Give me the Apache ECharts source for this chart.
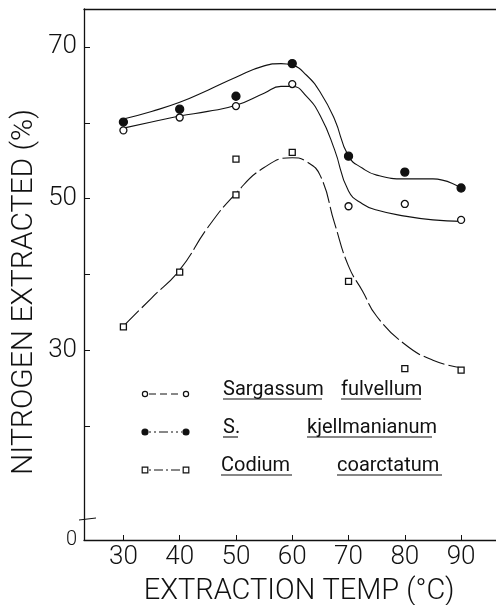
<!DOCTYPE html>
<html>
<head>
<meta charset="utf-8">
<script src="https://cdn.jsdelivr.net/npm/echarts@6/dist/echarts.min.js"></script>
<style>html,body{margin:0;padding:0;background:#fff}#c{width:496px;height:605px}</style>
</head>
<body>
<div id="c"></div>
<script>
// ---- data ----
const temps = [30, 40, 50, 60, 70, 80, 90];
const fulvellumPts = [59.0, 60.7, 62.2, 65.1, 49.0, 49.3, 47.2];
const kjellPts = [60.1, 61.8, 63.5, 67.8, 55.6, 53.5, 51.4];
const codiumTemps = [30, 40, 50, 50, 60, 70, 80, 90];
const codiumPts = [33.1, 40.3, 55.2, 50.5, 56.1, 39.1, 27.6, 27.4];
// fitted curves (x, y)
const fulvellumCurveX = [30, 35, 40, 45, 50, 55, 58, 60, 62.5, 65, 67.5, 70, 72.5, 75, 80, 85, 90];
const fulvellumCurveY = [59.3, 60.1, 60.9, 61.5, 62.3, 63.9, 64.8, 64.8, 63.5, 60.9, 56.5, 51.0, 49.3, 48.5, 47.7, 47.2, 47.0];
const kjellCurveX = [30, 35, 40, 45, 50, 55, 58, 60, 62.5, 65, 67.5, 70, 72.5, 75, 80, 85, 90];
const kjellCurveY = [60.5, 61.5, 62.7, 64.3, 66.0, 67.5, 67.8, 67.6, 66.3, 64.0, 60.5, 55.6, 54.0, 53.1, 52.6, 52.6, 51.4];
const codiumCurveX = [30, 35, 40, 45, 50, 55, 60, 62.5, 65, 67.5, 70, 72.5, 75, 80, 85, 90];
const codiumCurveY = [33.2, 36.9, 40.6, 46.2, 50.7, 54.1, 55.4, 54.9, 53.0, 46.8, 41.1, 37.8, 34.5, 30.8, 28.7, 27.7];
const xTickLabels = [30, 40, 50, 60, 70, 80, 90];
const yTickLabels = [5, 30, 50, 70];   // 5 marks the broken-axis origin labelled "0"
const yTicks = [20, 30, 40, 50, 60, 70];
const seriesNames = ['Sargassum fulvellum', 'S. kjellmanianum', 'Codium coarctatum'];

const zip = (xs, ys) => xs.map((x, i) => [x, ys[i]]);
const FONT = 'Roboto';
const ink = '#111';

const chart = echarts.init(document.getElementById('c'), null, {renderer: 'canvas'});

const lineS = (name, xs, ys, dash) => ({
  name: name, type: 'line', data: zip(xs, ys), showSymbol: false, smooth: 0.5,
  silent: true, z: 2,
  lineStyle: {color: ink, width: 1.1, type: dash}
});
const ptS = (name, xs, ys, symbol, size, fill) => ({
  name: name, type: 'scatter', data: zip(xs, ys), symbol: symbol, symbolSize: size, z: 3,
  itemStyle: {color: fill, borderColor: ink, borderWidth: 1.3, opacity: 1}
});

// legend drawn as graphic
const legendRows = [
  {y: 394, parts: [['Sargassum', 223], ['fulvellum', 341]], sym: 'circle', fill: '#fff', dash: [7, 4]},
  {y: 432, parts: [['S.', 223], ['kjellmanianum', 307]], sym: 'circle', fill: ink, dash: [2, 3, 2, 3, 9, 3]},
  {y: 470, parts: [['Codium', 221], ['coarctatum', 337]], sym: 'rect', fill: '#fff', dash: [2, 3, 9, 3]}
];
const graphics = [];
legendRows.forEach(r => {
  graphics.push({type: 'line', shape: {x1: 149, y1: r.y, x2: 182, y2: r.y},
    style: {stroke: ink, lineWidth: 1, lineDash: r.dash}});
  [145, 186].forEach(cx => {
    if (r.sym === 'circle') {
      graphics.push({type: 'circle', shape: {cx: cx, cy: r.y, r: r.fill === '#fff' ? 2.6 : 3},
        style: {fill: r.fill, stroke: ink, lineWidth: 1.2}});
    } else {
      graphics.push({type: 'rect', shape: {x: cx - 2.8, y: r.y - 2.8, width: 5.6, height: 5.6},
        style: {fill: '#fff', stroke: ink, lineWidth: 1.2}});
    }
  });
  r.parts.forEach(p => {
    graphics.push({type: 'text', x: p[1], y: r.y - 4, z: 10,
      style: {text: p[0], font: '20px ' + FONT, fill: ink, textAlign: 'left', textVerticalAlign: 'middle'}});
  });
});
// underlines
const underlines = [
  [223, 322, 399], [341, 421, 399],
  [223, 238, 437], [307, 432, 437],
  [221, 292, 475], [337, 442, 475]
];
underlines.forEach(u => graphics.push({type: 'line', shape: {x1: u[0], y1: u[2], x2: u[1], y2: u[2]},
  style: {stroke: ink, lineWidth: 1.1}}));
// small axis-break mark near the origin
graphics.push({type: 'line', shape: {x1: 79, y1: 520, x2: 96, y2: 518}, style: {stroke: ink, lineWidth: 1}});
// axis names
graphics.push({type: 'text', x: 24, y: 292, rotation: Math.PI / 2,
  style: {text: 'NITROGEN EXTRACTED (%)', font: '300 30px ' + FONT, fill: ink, textAlign: 'center', textVerticalAlign: 'middle'}});
graphics.push({type: 'text', x: 299, y: 592,
  style: {text: 'EXTRACTION TEMP (°C)', font: '300 29px ' + FONT, fill: ink, textAlign: 'center', textVerticalAlign: 'middle'}});

chart.setOption({
  animation: false,
  backgroundColor: '#fff',
  grid: {left: 84, right: 0, top: 9, bottom: 65},
  xAxis: [{
    type: 'value', min: 23, max: 96.2,
    axisLine: {show: true, lineStyle: {color: ink, width: 1.3}},
    axisTick: {show: true, inside: true, length: 5, customValues: xTickLabels, lineStyle: {color: ink}},
    axisLabel: {customValues: xTickLabels, color: ink, fontFamily: FONT, fontWeight: 300, fontSize: 26, margin: 4},
    splitLine: {show: false}
  }, {
    type: 'value', position: 'top', min: 23, max: 96.2,
    axisLine: {show: true, lineStyle: {color: ink, width: 1.3}},
    axisTick: {show: false}, axisLabel: {show: false}, splitLine: {show: false}
  }],
  yAxis: {
    type: 'value', min: 5, max: 75,
    axisLine: {show: true, lineStyle: {color: ink, width: 1.3}},
    axisTick: {show: true, inside: true, length: 6, customValues: yTicks, lineStyle: {color: ink}},
    axisLabel: {customValues: yTickLabels, color: ink, fontFamily: FONT, fontWeight: 300, fontSize: 26, margin: 7,
      formatter: v => v === 5 ? '{z|0}' : String(v), rich: {z: {fontSize: 20, fontFamily: FONT, fontWeight: 300, color: ink}}},
    splitLine: {show: false}
  },
  graphic: graphics,
  series: [
    lineS(seriesNames[0], fulvellumCurveX, fulvellumCurveY, 'solid'),
    lineS(seriesNames[1], kjellCurveX, kjellCurveY, 'solid'),
    lineS(seriesNames[2], codiumCurveX, codiumCurveY, [22, 4]),
    ptS(seriesNames[0], temps, fulvellumPts, 'circle', 7, '#fff'),
    ptS(seriesNames[1], temps, kjellPts, 'circle', 8, ink),
    ptS(seriesNames[2], codiumTemps, codiumPts, 'rect', 6, '#fff')
  ]
});
</script>
</body>
</html>
